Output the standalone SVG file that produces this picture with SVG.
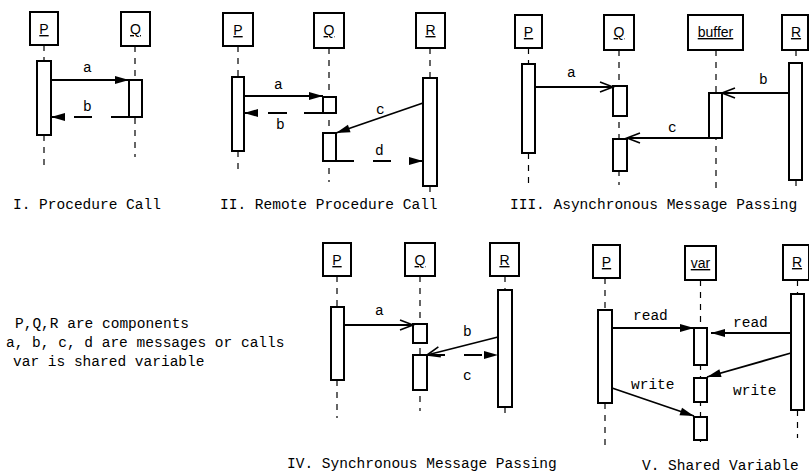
<svg xmlns="http://www.w3.org/2000/svg" width="809" height="473" viewBox="0 0 809 473">
<defs>
<marker id="fill" markerUnits="userSpaceOnUse" markerWidth="15" markerHeight="9" refX="14" refY="4" orient="auto" overflow="visible">
<path d="M0,0 L14,4 L0,8 z" fill="#000"/>
</marker>
<marker id="open" markerUnits="userSpaceOnUse" markerWidth="15" markerHeight="11" refX="13" refY="5" orient="auto" overflow="visible">
<path d="M0,0 L13,5 L0,10" fill="none" stroke="#000" stroke-width="1.6"/>
</marker>
</defs>
<style>
.obj{fill:#fff;stroke:#000;stroke-width:2}
.act{fill:#fff;stroke:#000;stroke-width:2}
.life{stroke:#000;stroke-width:1.2;stroke-dasharray:6 6;fill:none}
.lbl{font-family:"Liberation Sans",Arial,sans-serif;font-size:14px;text-anchor:middle;text-decoration:underline}
.msg{stroke:#000;stroke-width:1.8;fill:none}
.dash{stroke-dasharray:18 19}
.f{marker-end:url(#fill)}
.o{marker-end:url(#open)}
.t{font-family:"Liberation Mono","Courier New",monospace;font-size:14.5px;fill:#000}
</style>

<!-- I. Procedure Call -->
<g id="I">
<g id="I-P"><rect class="obj" x="30" y="12" width="28" height="33"/><text class="lbl" x="44" y="34">P</text>
<line class="life" x1="44" y1="45" x2="44" y2="61"/><line class="life" x1="44" y1="135" x2="44" y2="166"/>
<rect class="act" x="37" y="61" width="14" height="74"/></g>
<g id="I-Q"><rect class="obj" x="121" y="12" width="29" height="34"/><text class="lbl" x="135.5" y="34">Q</text>
<line class="life" x1="135" y1="46" x2="135" y2="157"/>
<rect class="act" x="129" y="80" width="13" height="37"/></g>
<text class="t" x="83" y="72">a</text>
<text class="t" x="83" y="111">b</text>
<text class="t" x="13" y="209">I. Procedure Call</text>
</g>

<!-- II. Remote Procedure Call -->
<g id="II">
<g id="II-P"><rect class="obj" x="223" y="13" width="30" height="33"/><text class="lbl" x="238" y="35">P</text>
<line class="life" x1="238" y1="46" x2="238" y2="77"/><line class="life" x1="238" y1="151" x2="238" y2="173"/>
<rect class="act" x="232" y="77" width="12" height="74"/></g>
<g id="II-Q"><rect class="obj" x="314" y="13" width="30" height="35"/><text class="lbl" x="329" y="35">Q</text>
<line class="life" x1="329" y1="48" x2="329" y2="182"/>
<rect class="act" x="323" y="97" width="13" height="16"/>
<rect class="act" x="323" y="133" width="13" height="28"/></g>
<g id="II-R"><rect class="obj" x="416" y="13" width="29" height="35"/><text class="lbl" x="430.5" y="35">R</text>
<line class="life" x1="430" y1="48" x2="430" y2="78"/><line class="life" x1="430" y1="186" x2="430" y2="196"/>
<rect class="act" x="423" y="78" width="14" height="108"/></g>
<text class="t" x="274" y="89">a</text>
<text class="t" x="276" y="129">b</text>
<text class="t" x="376" y="114">c</text>
<text class="t" x="375" y="155">d</text>
<text class="t" x="220" y="209">II. Remote Procedure Call</text>
</g>

<!-- III. Asynchronous Message Passing -->
<g id="III">
<g id="III-P"><rect class="obj" x="515" y="15" width="27" height="33"/><text class="lbl" x="528.5" y="37">P</text>
<line class="life" x1="528.5" y1="48" x2="528.5" y2="64"/><line class="life" x1="528.5" y1="153" x2="528.5" y2="186"/>
<rect class="act" x="522" y="64" width="13" height="89"/></g>
<g id="III-Q"><rect class="obj" x="604" y="15" width="30" height="35"/><text class="lbl" x="619" y="37">Q</text>
<line class="life" x1="619" y1="50" x2="619" y2="185"/>
<rect class="act" x="613" y="86" width="14" height="30"/>
<rect class="act" x="613" y="139" width="14" height="32"/></g>
<g id="III-buffer"><rect class="obj" x="688" y="15" width="55" height="35"/><text class="lbl" x="715.5" y="37">buffer</text>
<line class="life" x1="716" y1="50" x2="716" y2="190"/>
<rect class="act" x="709" y="93" width="13" height="45"/></g>
<g id="III-R"><rect class="obj" x="782" y="15" width="26" height="35"/><text class="lbl" x="796" y="37">R</text>
<line class="life" x1="796" y1="50" x2="796" y2="63"/><line class="life" x1="796" y1="180" x2="796" y2="189"/>
<rect class="act" x="789" y="63" width="13" height="117"/></g>
<text class="t" x="567" y="77">a</text>
<text class="t" x="759" y="84">b</text>
<text class="t" x="668" y="132">c</text>
<text class="t" x="510" y="209">III. Asynchronous Message Passing</text>
</g>

<!-- Legend -->
<g id="legend">
<text class="t" x="15" y="328">P,Q,R are components</text>
<text class="t" x="6" y="347">a, b, c, d are messages or calls</text>
<text class="t" x="13" y="366">var is shared variable</text>
</g>

<!-- IV. Synchronous Message Passing -->
<g id="IV">
<g id="IV-P"><rect class="obj" x="323" y="243" width="28" height="33"/><text class="lbl" x="337" y="265">P</text>
<line class="life" x1="337" y1="276" x2="337" y2="307"/><line class="life" x1="337" y1="380" x2="337" y2="418"/>
<rect class="act" x="331" y="307" width="13" height="73"/></g>
<g id="IV-Q"><rect class="obj" x="405" y="243" width="30" height="33"/><text class="lbl" x="420" y="265">Q</text>
<line class="life" x1="420" y1="276" x2="420" y2="411"/>
<rect class="act" x="413" y="324" width="14" height="19"/>
<rect class="act" x="413" y="355" width="14" height="35"/></g>
<g id="IV-R"><rect class="obj" x="490" y="243" width="29" height="33"/><text class="lbl" x="504.5" y="265">R</text>
<line class="life" x1="505" y1="276" x2="505" y2="290"/><line class="life" x1="505" y1="407" x2="505" y2="418"/>
<rect class="act" x="498" y="290" width="14" height="117"/></g>
<text class="t" x="375" y="315">a</text>
<text class="t" x="463" y="336">b</text>
<text class="t" x="463" y="380">c</text>
<text class="t" x="287" y="468">IV. Synchronous Message Passing</text>
</g>

<!-- V. Shared Variable -->
<g id="V">
<g id="V-P"><rect class="obj" x="593" y="245" width="27" height="33"/><text class="lbl" x="606.5" y="267">P</text>
<line class="life" x1="605" y1="278" x2="605" y2="310"/><line class="life" x1="605" y1="403" x2="605" y2="446"/>
<rect class="act" x="598" y="310" width="14" height="93"/></g>
<g id="V-var"><rect class="obj" x="685" y="246" width="31" height="34"/><text class="lbl" x="700.5" y="268">var</text>
<line class="life" x1="700.5" y1="280" x2="700.5" y2="446"/>
<rect class="act" x="694" y="328" width="13" height="37"/>
<rect class="act" x="694" y="378" width="13" height="24"/>
<rect class="act" x="694" y="417" width="13" height="23"/></g>
<g id="V-R"><rect class="obj" x="783" y="245" width="26" height="35"/><text class="lbl" x="797" y="267">R</text>
<line class="life" x1="797.5" y1="280" x2="797.5" y2="294"/><line class="life" x1="797.5" y1="410" x2="797.5" y2="438"/>
<rect class="act" x="791" y="294" width="13" height="116"/></g>
<text class="t" x="633" y="320">read</text>
<text class="t" x="733" y="327">read</text>
<text class="t" x="631" y="389">write</text>
<text class="t" x="733" y="395">write</text>
<text class="t" x="642" y="470">V. Shared Variable</text>
</g>

<!-- Connectors -->
<g id="connectors">
<line class="msg f" x1="51" y1="80" x2="129" y2="80"/>
<line class="msg dash f" x1="129" y1="117" x2="51" y2="117"/>
<line class="msg f" x1="244" y1="96" x2="323" y2="96"/>
<line class="msg dash f" x1="323" y1="113" x2="244" y2="113" style="stroke-dasharray:19 17"/>
<line class="msg f" x1="423" y1="103" x2="336" y2="133"/>
<line class="msg dash f" x1="336" y1="161" x2="423" y2="161"/>
<line class="msg o" x1="535" y1="87" x2="613" y2="87"/>
<line class="msg o" x1="789" y1="93" x2="722" y2="93"/>
<line class="msg o" x1="709" y1="138" x2="627" y2="138"/>
<line class="msg o" x1="344" y1="325" x2="413" y2="325"/>
<line class="msg o" x1="498" y1="337" x2="427" y2="355"/>
<line class="msg dash f" x1="427" y1="355" x2="498" y2="355"/>
<line class="msg f" x1="612" y1="328" x2="694" y2="328"/>
<line class="msg f" x1="791" y1="333" x2="711" y2="333"/>
<line class="msg f" x1="791" y1="353" x2="707" y2="377"/>
<line class="msg f" x1="612" y1="388" x2="694" y2="416"/>
</g>
</svg>
